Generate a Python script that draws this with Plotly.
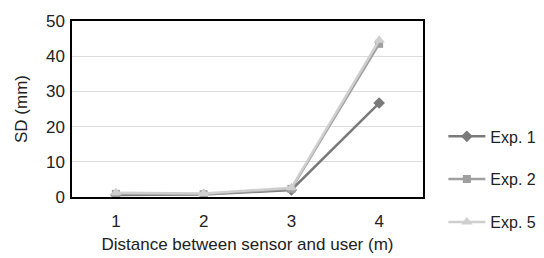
import plotly.graph_objects as go

distances = ["1", "2", "3", "4"]
exp1 = [0.6, 0.7, 2.0, 26.7]
exp2 = [0.9, 0.8, 2.3, 43.5]
exp5 = [1.2, 1.0, 2.6, 44.5]

series = [
    ("Exp. 1", exp1, "#7a7a7a", "diamond", 9),
    ("Exp. 2", exp2, "#a0a0a0", "square", 8),
    ("Exp. 5", exp5, "#cfcfcf", "triangle-up", 10),
]

fig = go.Figure()
for i, (name, vals, col, sym, sz) in enumerate(series):
    fig.add_trace(go.Scatter(
        x=distances, y=vals, name=name, mode="lines+markers",
        line=dict(color=col, width=2.5),
        marker=dict(symbol=sym, size=sz, color=col),
        legendgroup=f"g{i}",
    ))

font = "Liberation Sans, Arial, sans-serif"
fig.update_layout(
    width=536, height=250,
    margin=dict(l=64, r=121, t=13, b=61, autoexpand=False),
    paper_bgcolor="white", plot_bgcolor="white",
    font=dict(family=font, size=16, color="#222"),
    showlegend=True,
    legend=dict(x=1.058, y=0.10, xanchor="left", yanchor="middle",
                font=dict(size=16), tracegroupgap=19, itemwidth=37,
                bgcolor="rgba(0,0,0,0)"),
    xaxis=dict(
        type="category", range=[-0.5, 3.5], automargin=False,
        showline=True, linecolor="black", linewidth=1.5, mirror=True,
        showgrid=False, ticks="", ticklen=0, ticklabelstandoff=8,
        title=dict(text="Distance between sensor and user (m)", font=dict(size=17), standoff=8),
        tickfont=dict(size=17),
    ),
    yaxis=dict(
        range=[0, 50], dtick=10, automargin=False,
        showline=True, linecolor="black", linewidth=1.5, mirror=True,
        showgrid=True, gridcolor="#dcdcdc", gridwidth=1,
        zeroline=False, ticks="", ticklabelstandoff=2,
        title=dict(text="SD (mm)", font=dict(size=17), standoff=14),
        tickfont=dict(size=17),
    ),
)

fig.write_html("out.html")
